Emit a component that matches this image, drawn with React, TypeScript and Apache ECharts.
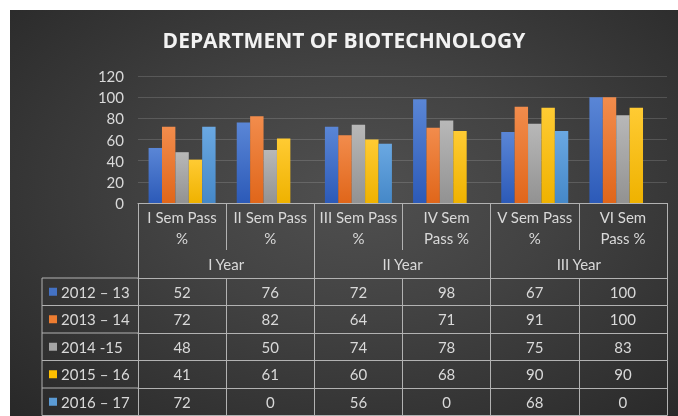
import React, { useEffect, useRef } from "react";
import * as echarts from "echarts";

// ---- data ----
const categories = [
  "I Sem Pass\n%",
  "II Sem Pass\n%",
  "III Sem Pass\n%",
  "IV Sem\nPass %",
  "V Sem Pass\n%",
  "VI Sem\nPass %",
];
const yearGroups = ["I Year", "II Year", "III Year"];
const seriesNames = ["2012 – 13", "2013 – 14", "2014 -15", "2015 – 16", "2016 – 17"];
const s2012 = [52, 76, 72, 98, 67, 100];
const s2013 = [72, 82, 64, 71, 91, 100];
const s2014 = [48, 50, 74, 78, 75, 83];
const s2015 = [41, 61, 60, 68, 90, 90];
const s2016 = [72, 0, 56, 0, 68, 0];
const yMin = 0;
const yMax = 120;
const yStep = 20;

const seriesData = [s2012, s2013, s2014, s2015, s2016];

// ---- styles ----
const baseColors = ["#4472C4", "#ED7D31", "#A5A5A5", "#FFC000", "#5B9BD5"];
const topColors = ["#5a86d6", "#f28c4c", "#b8b8b8", "#ffcb33", "#6aa8e2"];
const bottomColors = ["#2c5ab8", "#e0661a", "#929292", "#efb200", "#4588c8"];
const TEXT = "#d9d9d9";
const LINE = "#b2b2b2";
const FONT = "Lato, 'Open Sans', sans-serif";

const GRID_LEFT = 128;
const GRID_TOP = 66;
const GRID_RIGHT = 11;
const GRID_BOTTOM = 213;
const CHART_H = 406;
const HEADER_H = 47;
const GROUP_H = 28;
const ROW_H = 27.5;
const LEGEND_COL_LEFT = 32;

export default function App() {
  const ref = useRef<HTMLDivElement>(null);

  useEffect(() => {
    if (!ref.current) return;
    const chart = echarts.init(ref.current, undefined, { renderer: "svg" });
    const axisBottomY = CHART_H - GRID_BOTTOM;
    const tableTop = axisBottomY + HEADER_H + GROUP_H;

    const rowAxes = seriesData.map((row, i) => ({
      type: "category",
      gridIndex: 0,
      position: "bottom",
      data: categories,
      offset: HEADER_H + GROUP_H + i * ROW_H,
      axisLine: { show: true, lineStyle: { color: LINE, width: 1 } },
      axisTick: { show: true, length: ROW_H, interval: 0, lineStyle: { color: LINE } },
      axisLabel: {
        interval: 0,
        margin: ROW_H / 2 - 7.5,
        color: TEXT,
        fontSize: 15,
        lineHeight: 15,
        fontFamily: FONT,
        formatter: (_v: string, idx: number) => String(row[idx]),
      },
      splitLine: { show: false },
    }));

    const graphicLines: any[] = [];
    for (let i = 0; i <= seriesData.length; i++) {
      const y = tableTop + i * ROW_H;
      graphicLines.push({
        type: "line",
        shape: { x1: LEGEND_COL_LEFT, y1: y, x2: GRID_LEFT, y2: y },
        style: { stroke: LINE, lineWidth: 1 },
        silent: true,
      });
    }
    graphicLines.push({
      type: "line",
      shape: {
        x1: LEGEND_COL_LEFT,
        y1: tableTop,
        x2: LEGEND_COL_LEFT,
        y2: tableTop + seriesData.length * ROW_H,
      },
      style: { stroke: LINE, lineWidth: 1 },
      silent: true,
    });

    chart.setOption({
      animation: false,
      backgroundColor: "transparent",
      title: {
        text: "DEPARTMENT OF BIOTECHNOLOGY",
        left: "center",
        top: 19,
        padding: 0,
        textStyle: {
          color: "#f2f2f2",
          fontSize: 21,
          lineHeight: 21,
          fontWeight: "bold",
          fontFamily: "'Open Sans', sans-serif",
        },
      },
      legend: {
        orient: "vertical",
        left: LEGEND_COL_LEFT + 7,
        top: tableTop + ROW_H / 2 - 7.5,
        padding: 0,
        itemGap: ROW_H - 15,
        itemWidth: 8,
        itemHeight: 8,
        icon: "rect",
        selectedMode: false,
        textStyle: { color: TEXT, fontSize: 15, lineHeight: 15, fontFamily: FONT, padding: [0, 0, 0, -1] },
        data: seriesNames.map((n, i) => ({ name: n, itemStyle: { color: baseColors[i] } })),
      },
      grid: {
        left: GRID_LEFT,
        top: GRID_TOP,
        right: GRID_RIGHT,
        bottom: GRID_BOTTOM,
        containLabel: false,
      },
      xAxis: [
        {
          type: "category",
          gridIndex: 0,
          position: "bottom",
          data: categories,
          axisLine: { show: true, lineStyle: { color: LINE, width: 1 } },
          axisTick: { show: true, length: HEADER_H, interval: 0, lineStyle: { color: LINE } },
          axisLabel: {
            interval: 0,
            margin: 3.5,
            color: TEXT,
            fontSize: 15,
            lineHeight: 21,
            fontFamily: FONT,
          },
        },
        {
          type: "category",
          gridIndex: 0,
          position: "bottom",
          data: yearGroups,
          offset: HEADER_H,
          axisLine: { show: false },
          axisTick: { show: true, length: GROUP_H, interval: 0, lineStyle: { color: LINE } },
          axisLabel: {
            interval: 0,
            margin: GROUP_H / 2 - 7.5,
            color: TEXT,
            fontSize: 15,
            lineHeight: 15,
            fontFamily: FONT,
          },
        },
        ...rowAxes,
        {
          type: "category",
          gridIndex: 0,
          position: "bottom",
          data: categories,
          offset: HEADER_H + GROUP_H + seriesData.length * ROW_H,
          axisLine: { show: true, lineStyle: { color: LINE, width: 1 } },
          axisTick: { show: false },
          axisLabel: { show: false },
        },
      ],
      yAxis: {
        type: "value",
        min: yMin,
        max: yMax,
        interval: yStep,
        axisLine: { show: false },
        axisTick: { show: false },
        axisLabel: { color: TEXT, fontSize: 15, fontFamily: FONT, margin: 14 },
        splitLine: { lineStyle: { color: "rgba(255,255,255,0.15)", width: 1 } },
      },
      graphic: graphicLines,
      series: seriesData.map((d, i) => ({
        name: seriesNames[i],
        type: "bar",
        xAxisIndex: 0,
        data: d,
        barGap: "0%",
        barCategoryGap: "24%",
        itemStyle: {
          color: new echarts.graphic.LinearGradient(0, 0, 0, 1, [
            { offset: 0, color: topColors[i] },
            { offset: 1, color: bottomColors[i] },
          ]),
        },
      })),
    });

    return () => chart.dispose();
  }, []);

  return (
    <div
      ref={ref}
      style={{
        position: "fixed",
        left: 10,
        top: 10,
        width: 668,
        height: 406,
        background:
          "radial-gradient(ellipse farthest-corner at 52% 45%, #505050 0%, #424242 40%, #282828 100%)",
      }}
    />
  );
}
